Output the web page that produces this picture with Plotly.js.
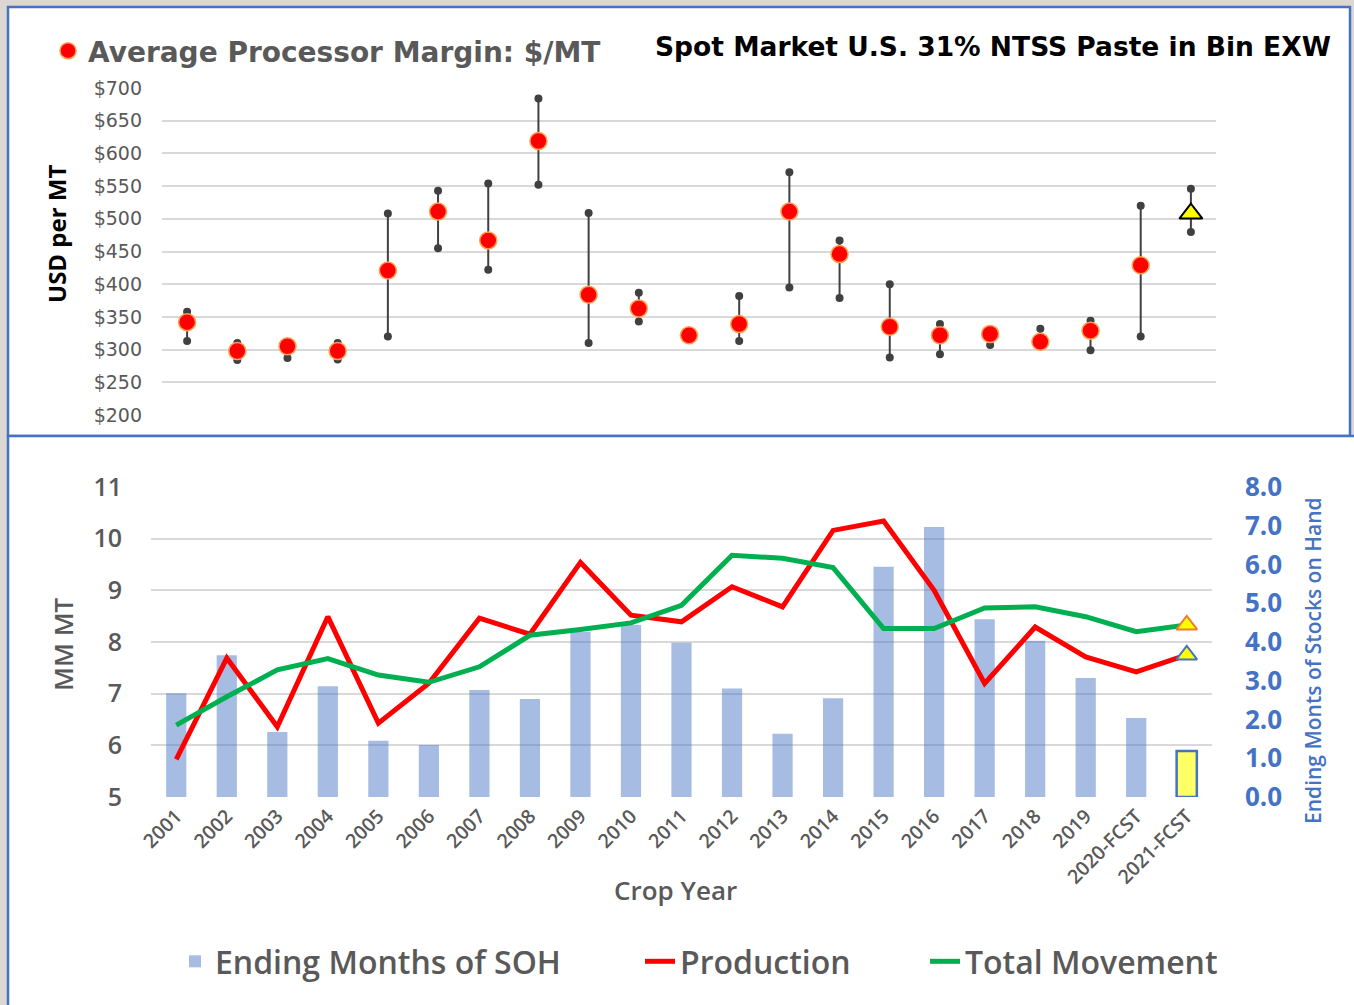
<!DOCTYPE html>
<html><head><meta charset="utf-8">
<script src="https://cdn.plot.ly/plotly-3.0.1.min.js"></script>
<style>html,body{margin:0;padding:0;background:#fff}#chart{width:1354px;height:1005px}</style>
</head><body><div id="chart"></div>
<script>
const years = ['2001','2002','2003','2004','2005','2006','2007','2008','2009','2010','2011','2012','2013','2014','2015','2016','2017','2018','2019','2020-FCST','2021-FCST'];
const marginAvg  = [342,298,305,298,421,511,467,619,384,363,322,339,511,446,335,322,324,312,329,429,508];
const marginHigh = [358,310,307,310,508,543,554,684,509,387,324,382,571,467,400,339,326,332,344,520,546];
const marginLow  = [313,284,287,285,320,455,422,552,310,343,320,313,395,379,288,293,307,310,299,320,480];
const production = [5.73,7.69,6.36,8.49,6.43,7.20,8.46,8.15,9.54,8.52,8.39,9.07,8.68,10.16,10.34,9.00,7.20,8.29,7.71,7.42,7.75];
const movement   = [6.39,6.94,7.46,7.68,7.36,7.22,7.52,8.13,8.24,8.37,8.71,9.68,9.62,9.44,8.26,8.26,8.66,8.68,8.49,8.20,8.33];
const monthsSOH  = [2.68,3.66,1.68,2.86,1.45,1.34,2.76,2.53,4.26,4.44,3.98,2.80,1.63,2.55,5.94,6.97,4.59,4.03,3.07,2.04,1.19];

const W = 1354, H = 1005;
const px = v => v / W, py = v => 1 - v / H;
const FONT = 'Open Sans';
const WIDE = 'DejaVu Sans';
const GRAY = '#595959', BLUE = '#4472c4';
const last = years.length - 1;
const isFcst = y => y === '2021-FCST';

// whisker segments built from the data
const wx = [], wy = [];
years.forEach((y, i) => { wx.push(y, y, null); wy.push(marginLow[i], marginHigh[i], null); });

const pastYears = years.filter(y => !isFcst(y));
const pastAvg = marginAvg.filter((v, i) => !isFcst(years[i]));

const traces = [
  { type: 'scatter', mode: 'lines+markers', x: wx, y: wy, xaxis: 'x', yaxis: 'y',
    line: { color: '#404040', width: 2 }, marker: { color: '#404040', size: 8 },
    showlegend: false, hoverinfo: 'skip', connectgaps: false },
  { type: 'scatter', mode: 'markers', x: pastYears, y: pastAvg, xaxis: 'x', yaxis: 'y',
    name: 'Average Processor Margin: $/MT', legend: 'legend2',
    marker: { color: '#ff0000', size: 17, line: { color: '#ffa050', width: 1.5 } } },
  { type: 'scatter', mode: 'markers', x: [years[last]], y: [marginAvg[last]], xaxis: 'x', yaxis: 'y',
    showlegend: false,
    marker: { symbol: 'triangle-up', color: '#ffff00', size: 20, line: { color: '#000000', width: 2 } } },
  { type: 'bar', x: years, y: monthsSOH, xaxis: 'x2', yaxis: 'y2', name: 'Ending Months of SOH', legend: 'legend',
    marker: { color: years.map(y => isFcst(y) ? '#ffff66' : 'rgba(68,114,196,0.48)'),
              line: { color: years.map(y => isFcst(y) ? BLUE : 'rgba(0,0,0,0)'), width: years.map(y => isFcst(y) ? 2.5 : 0) } } },
  { type: 'scatter', mode: 'lines', x: years, y: production, xaxis: 'x2', yaxis: 'y3', name: 'Production', legend: 'legend3',
    line: { color: '#ff0000', width: 5 } },
  { type: 'scatter', mode: 'lines', x: years, y: movement, xaxis: 'x2', yaxis: 'y3', name: 'Total Movement', legend: 'legend4',
    line: { color: '#00b050', width: 5 } },
  { type: 'scatter', mode: 'markers', x: [years[last]], y: [production[last]], xaxis: 'x2', yaxis: 'y3', showlegend: false,
    marker: { symbol: 'triangle-up', color: '#ffff00', size: 18, line: { color: BLUE, width: 2 } } },
  { type: 'scatter', mode: 'markers', x: [years[last]], y: [movement[last]], xaxis: 'x2', yaxis: 'y3', showlegend: false,
    marker: { symbol: 'triangle-up', color: '#ffff00', size: 18, line: { color: '#ed7d31', width: 2 } } }
];

const legFont = { size: 32, color: GRAY, family: FONT, weight: 600 };
const bottomLegend = x => ({ orientation: 'h', x: px(x), y: py(934), xanchor: 'left', yanchor: 'top',
                             bgcolor: 'rgba(0,0,0,0)', font: legFont });

const layout = {
  width: W, height: H,
  margin: { l: 0, r: 0, t: 0, b: 0 },
  paper_bgcolor: '#dcd7d2', plot_bgcolor: 'rgba(0,0,0,0)',
  font: { family: FONT, color: GRAY },
  bargap: 0.6,
  xaxis: { domain: [px(162), px(1216)], type: 'category', categoryorder: 'array', categoryarray: years,
           range: [-0.5, 20.5], showticklabels: false, showgrid: false, zeroline: false, ticks: '', fixedrange: true },
  yaxis: { domain: [py(415), py(88)], range: [200, 700], dtick: 50, tickprefix: '$',
           gridcolor: '#d9d9d9', gridwidth: 2, zeroline: false, ticklabelstandoff: 19,
           tickfont: { size: 19, color: GRAY, family: WIDE } },
  xaxis2: { domain: [px(151), px(1212)], anchor: 'y2', type: 'category', categoryorder: 'array', categoryarray: years,
            range: [-0.5, 20.5], tickangle: -45, showgrid: false, zeroline: false, ticks: '', ticklabelstandoff: 3,
            tickfont: { size: 19.5, color: GRAY, family: FONT, weight: 600 } },
  yaxis2: { domain: [py(797), py(487)], anchor: 'x2', side: 'right', range: [0, 8], dtick: 1, tickformat: '.1f',
            showgrid: false, zeroline: false, ticklabelstandoff: 32,
            tickfont: { size: 26, color: BLUE, family: FONT, weight: 700 } },
  yaxis3: { domain: [py(797), py(487)], anchor: 'x2', overlaying: 'y2', side: 'left', range: [5, 11], dtick: 1,
            gridcolor: '#d9d9d9', gridwidth: 2, zeroline: false, ticklabelstandoff: 28,
            tickfont: { size: 25, color: GRAY, family: FONT, weight: 600 } },
  legend: bottomLegend(175),
  legend3: bottomLegend(640),
  legend4: bottomLegend(925),
  legend2: { orientation: 'h', x: px(48), y: py(26), xanchor: 'left', yanchor: 'top', bgcolor: 'rgba(0,0,0,0)',
             font: { size: 28, color: GRAY, family: WIDE, weight: 700 } },
  shapes: [
    { type: 'rect', xref: 'paper', yref: 'paper', x0: px(8), x1: px(1350), y0: py(436), y1: py(7),
      fillcolor: '#ffffff', line: { color: BLUE, width: 2.5 }, layer: 'below' },
    { type: 'rect', xref: 'paper', yref: 'paper', x0: px(8), x1: px(1370), y0: py(1020), y1: py(436),
      fillcolor: '#ffffff', line: { color: BLUE, width: 2.5 }, layer: 'below' }
  ],
  annotations: [
    { text: 'Spot Market U.S. 31% NTSS Paste in Bin EXW', xref: 'paper', yref: 'paper', x: px(653), y: py(47),
      xanchor: 'left', yanchor: 'middle', showarrow: false,
      font: { size: 26.5, color: '#000000', family: WIDE, weight: 700 } },
    { text: 'USD per MT', xref: 'paper', yref: 'paper', x: px(57), y: py(234), textangle: -90,
      xanchor: 'center', yanchor: 'middle', showarrow: false,
      font: { size: 24, color: '#000000', family: FONT, weight: 700 } },
    { text: 'MM MT', xref: 'paper', yref: 'paper', x: px(63), y: py(644), textangle: -90,
      xanchor: 'center', yanchor: 'middle', showarrow: false,
      font: { size: 26, color: GRAY, family: FONT, weight: 600 } },
    { text: 'Ending Monts of Stocks on Hand', xref: 'paper', yref: 'paper', x: px(1313), y: py(661), textangle: -90,
      xanchor: 'center', yanchor: 'middle', showarrow: false,
      font: { size: 21, color: BLUE, family: FONT, weight: 600 } },
    { text: 'Crop Year', xref: 'paper', yref: 'paper', x: px(675), y: py(890),
      xanchor: 'center', yanchor: 'middle', showarrow: false,
      font: { size: 26, color: GRAY, family: FONT, weight: 600 } }
  ]
};

Plotly.newPlot('chart', traces, layout, { displayModeBar: false, staticPlot: true });
</script>
</body></html>
